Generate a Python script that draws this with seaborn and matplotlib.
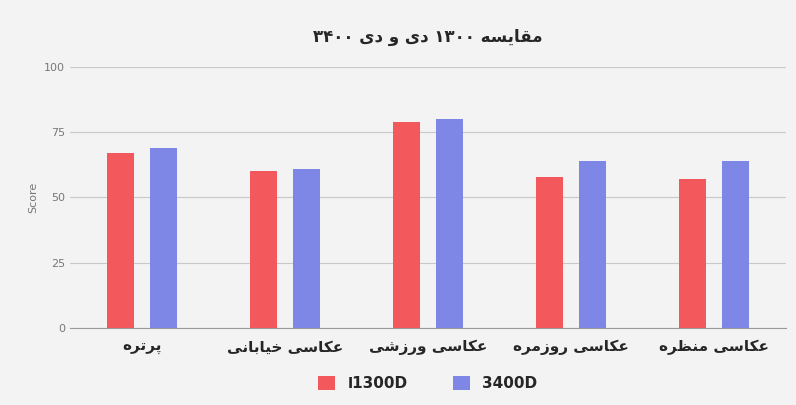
import pandas as pd
import matplotlib
matplotlib.use('Agg')
import matplotlib.pyplot as plt
import seaborn as sns

# داده‌ها
categories = ['پرتره', 'عکاسی خیابانی', 'عکاسی ورزشی', 'عکاسی روزمره', 'عکاسی منظره']
series_1300 = [67, 60, 79, 58, 57]
series_3400 = [69, 61, 80, 64, 64]
series_names = [chr(0xFE8D) + '1300D', '3400D']
title_text = 'مقایسه ۱۳۰۰ دی و دی ۳۴۰۰'

# شکل‌دهی ساده حروف فارسی (matplotlib خودش اتصال و راست‌به‌چپ ندارد)
FORMS = {
    'ا': (0xFE8D, 0xFE8E, None, None), 'ب': (0xFE8F, 0xFE90, 0xFE91, 0xFE92),
    'ت': (0xFE95, 0xFE96, 0xFE97, 0xFE98), 'خ': (0xFEA5, 0xFEA6, 0xFEA7, 0xFEA8),
    'د': (0xFEA9, 0xFEAA, None, None), 'ر': (0xFEAD, 0xFEAE, None, None),
    'ز': (0xFEAF, 0xFEB0, None, None), 'س': (0xFEB1, 0xFEB2, 0xFEB3, 0xFEB4),
    'ش': (0xFEB5, 0xFEB6, 0xFEB7, 0xFEB8), 'ظ': (0xFEC5, 0xFEC6, 0xFEC7, 0xFEC8),
    'ع': (0xFEC9, 0xFECA, 0xFECB, 0xFECC), 'ق': (0xFED5, 0xFED6, 0xFED7, 0xFED8),
    'م': (0xFEE1, 0xFEE2, 0xFEE3, 0xFEE4), 'ن': (0xFEE5, 0xFEE6, 0xFEE7, 0xFEE8),
    'ه': (0xFEE9, 0xFEEA, 0xFEEB, 0xFEEC), 'و': (0xFEED, 0xFEEE, None, None),
    'پ': (0xFB56, 0xFB57, 0xFB58, 0xFB59), 'ک': (0xFB8E, 0xFB8F, 0xFB90, 0xFB91),
    'ی': (0xFBFC, 0xFBFD, 0xFBFE, 0xFBFF),
}


def shape_word(w):
    if not any(c in FORMS for c in w):
        return w
    out = []
    for i, c in enumerate(w):
        if c not in FORMS:
            out.append(c)
            continue
        prev = w[i - 1] if i > 0 else None
        nxt = w[i + 1] if i < len(w) - 1 else None
        join_prev = prev in FORMS and FORMS[prev][2] is not None
        join_next = nxt in FORMS and FORMS[c][2] is not None
        iso, fin, ini, med = FORMS[c]
        if join_prev and join_next:
            code = med
        elif join_prev:
            code = fin
        elif join_next:
            code = ini
        else:
            code = iso
        out.append(chr(code))
    return ''.join(out[::-1])


def fa(text):
    return ' '.join(shape_word(w) for w in text.split(' ')[::-1])


df = pd.DataFrame({
    'cat': [fa(c) for c in categories] * 2,
    'score': series_1300 + series_3400,
    'model': [series_names[0]] * 5 + [series_names[1]] * 5,
})

sns.set_style('white')
plt.rcParams['font.family'] = ['DejaVu Sans']
bg = '#f3f3f3'
fig, ax = plt.subplots(figsize=(7.96, 4.05), dpi=100)
fig.patch.set_facecolor(bg)
ax.set_facecolor(bg)
fig.subplots_adjust(left=0.088, right=0.987, top=0.835, bottom=0.19)

sns.barplot(data=df, x='cat', y='score', hue='model', width=0.6, gap=0.37,
            palette=['#f2585c', '#7e86e6'], saturation=1, linewidth=0,
            ax=ax, legend=True, zorder=3)

ax.set_ylim(0, 100)
ax.set_yticks([0, 25, 50, 75, 100])
ax.yaxis.grid(True, color='#c8c8c8', linewidth=0.8, zorder=0)
for s in ['top', 'right', 'left']:
    ax.spines[s].set_visible(False)
ax.spines['bottom'].set_color('#999999')
ax.tick_params(axis='y', colors='#777777', labelsize=8, length=0)
ax.tick_params(axis='x', labelsize=11, length=5, color='#999999')
for t in ax.get_xticklabels():
    t.set_fontweight('bold')
ax.set_xlabel('')
ax.set_ylabel('Score', color='#777777', fontsize=8)
ax.set_title(fa(title_text), fontsize=12, fontweight='bold', pad=18)

leg = ax.legend(loc='upper center', bbox_to_anchor=(0.5, -0.13), ncol=2, frameon=False,
                fontsize=11, handlelength=1.1, handleheight=1.1, columnspacing=3)
for t in leg.get_texts():
    t.set_fontweight('bold')

fig.savefig('out.png', dpi=100, facecolor=bg)
